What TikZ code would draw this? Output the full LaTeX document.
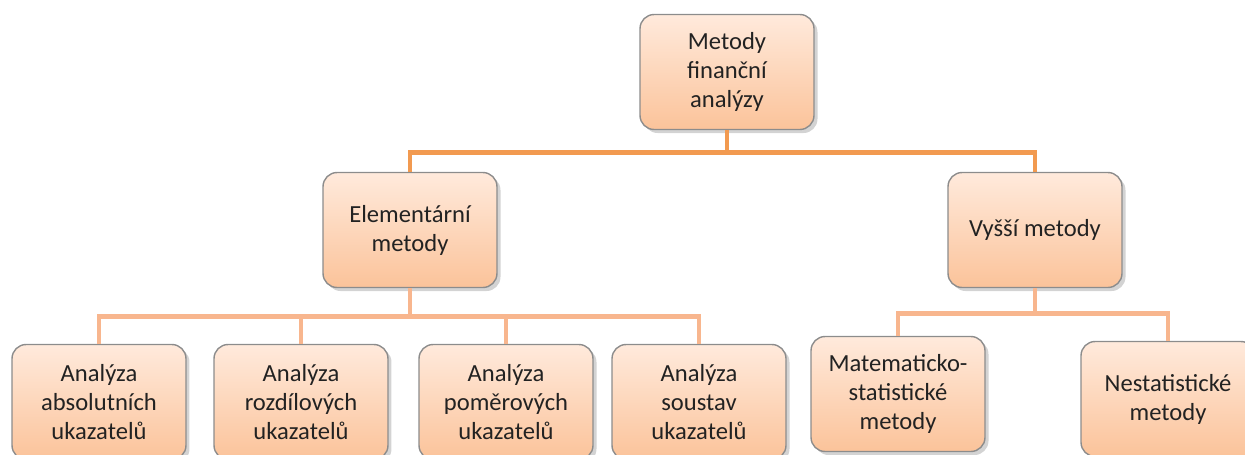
\documentclass[tikz,border=0pt]{standalone}
\usepackage{fontspec}
\setmainfont{Carlito}
\usepackage{tikz}
\usetikzlibrary{shadows}

\definecolor{boxtop}{HTML}{FFEADC}
\definecolor{boxbot}{HTML}{FBC39A}
\definecolor{boxline}{HTML}{8C8C8C}
\definecolor{linedark}{HTML}{F29A50}
\definecolor{linelight}{HTML}{F8B68E}
\definecolor{txt}{HTML}{222222}

\tikzset{
	box/.style={rectangle,rounded corners=8pt,draw=boxline,line width=0.8pt,
		top color=boxtop,bottom color=boxbot,
		drop shadow={shadow xshift=2pt,shadow yshift=-2pt,opacity=0.35},
		minimum width=3.48cm,minimum height=2.3cm,align=center,text=txt,
		font=\fontsize{14}{16.5}\selectfont},
	topline/.style={draw=linedark,line width=2.8pt},
	subline/.style={draw=linelight,line width=2.8pt}
}

\begin{document}
\begin{tikzpicture}[x=0.02cm,y=-0.02cm]
	
		\clip (0,0) rectangle (1245,454);
		
		\node[box] (metody) at (727,72) {Metody\\finanční\\analýzy};
		\node[box] (elem) at (410,230) {Elementární\\metody};
		\node[box] (vyssi) at (1035,230) {Vyšší metody};
		
		\node[box] (abs) at (99,402) {Analýza\\absolutních\\ukazatelů};
		\node[box] (rozd) at (301,402) {Analýza\\rozdílových\\ukazatelů};
		\node[box] (pom) at (506,402) {Analýza\\poměrových\\ukazatelů};
		\node[box] (sous) at (699,402) {Analýza\\soustav\\ukazatelů};
		\node[box] (mat) at (898,394) {Matematicko-\\statistické\\metody};
		\node[box] (nestat) at (1168,399) {Nestatistické\\metody};
		
		\path[topline] (metody.south) -- ++(0,22) -| (elem.north);
		\path[topline] (metody.south) -- ++(0,22) -| (vyssi.north);
		
		\path[subline] (elem.south) -- ++(0,28) -| (abs.north);
		\path[subline] (elem.south) -- ++(0,28) -| (rozd.north);
		\path[subline] (elem.south) -- ++(0,28) -| (pom.north);
		\path[subline] (elem.south) -- ++(0,28) -| (sous.north);
		
		\path[subline] (vyssi.south) -- ++(0,25) -| (mat.north);
		\path[subline] (vyssi.south) -- ++(0,25) -| (nestat.north);
		
	\end{tikzpicture}
\end{document}
